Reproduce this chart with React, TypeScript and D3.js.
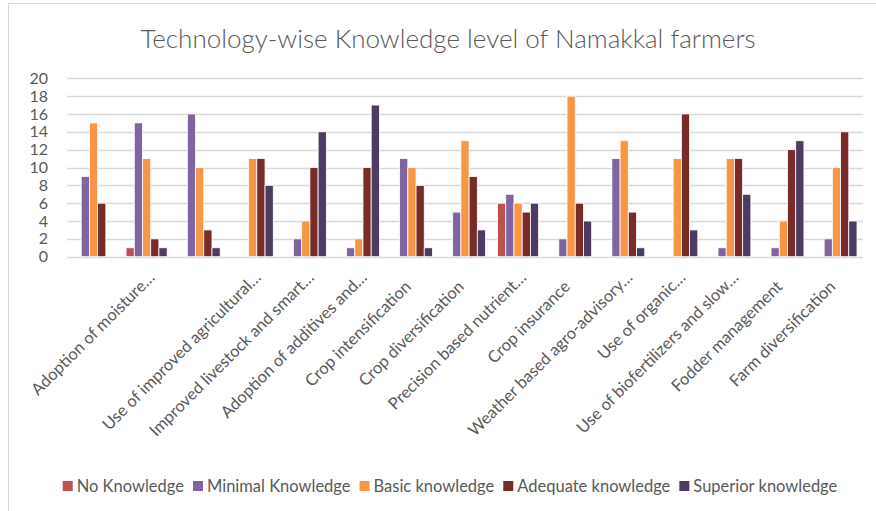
import React, { useEffect, useRef } from 'react';
import * as d3 from 'd3';

// categories as they show on the axis (two groups carry no label in the source chart)
const categories = [
  '',
  'Adoption of moisture…',
  '',
  'Use of improved agricultural…',
  'Improved livestock and smart…',
  'Adoption of additives and…',
  'Crop intensification',
  'Crop diversification',
  'Precision based nutrient…',
  'Crop insurance',
  'Weather based agro-advisory…',
  'Use of organic…',
  'Use of biofertilizers and slow…',
  'Fodder management',
  'Farm diversification',
];

const seriesNames = ['No Knowledge', 'Minimal Knowledge', 'Basic knowledge', 'Adequate knowledge', 'Superior knowledge'];

const noKnowledge = [0, 1, 0, 0, 0, 0, 0, 0, 6, 0, 0, 0, 0, 0, 0];
const minimalKnowledge = [9, 15, 16, 0, 2, 1, 11, 5, 7, 2, 11, 0, 1, 1, 2];
const basicKnowledge = [15, 11, 10, 11, 4, 2, 10, 13, 6, 18, 13, 11, 11, 4, 10];
const adequateKnowledge = [6, 2, 3, 11, 10, 10, 8, 9, 5, 6, 5, 16, 11, 12, 14];
const superiorKnowledge = [0, 1, 1, 8, 14, 17, 1, 3, 6, 4, 1, 3, 7, 13, 4];

const seriesColors = ['#C0504D', '#8064A2', '#F79646', '#772C2A', '#4E3B62'];

const yTicks = [0, 2, 4, 6, 8, 10, 12, 14, 16, 18, 20];

const title = 'Technology-wise Knowledge level of Namakkal farmers';

const W = 876, H = 511;
const font = 'Lato, "Open Sans", sans-serif';
const textColor = '#595959';
const gridColor = '#D9D9D9';

const App = () => {
  const ref = useRef<SVGSVGElement>(null);

  useEffect(() => {
    const svg = d3.select(ref.current);
    svg.selectAll('*').remove();

    const series = [noKnowledge, minimalKnowledge, basicKnowledge, adequateKnowledge, superiorKnowledge];

    const left = 67, right = 863, top = 78.3, bottom = 256.7;

    const x0 = d3.scaleBand<number>()
      .domain(d3.range(categories.length))
      .range([left, right])
      .paddingInner(0.226)
      .paddingOuter(0.113);

    const x1 = d3.scaleBand<number>()
      .domain(d3.range(seriesNames.length))
      .range([0, x0.bandwidth()]);

    const y = d3.scaleLinear()
      .domain([0, 20])
      .range([bottom, top]);

    // chart frame
    svg.append('rect')
      .attr('x', 8.5).attr('y', 3.5)
      .attr('width', 1000).attr('height', 1000)
      .attr('fill', 'white')
      .attr('stroke', gridColor);

    svg.append('text')
      .attr('x', 448).attr('y', 48)
      .attr('text-anchor', 'middle')
      .attr('font-family', font)
      .attr('font-size', 26)
      .attr('font-weight', 300)
      .attr('fill', textColor)
      .text(title);

    // grid
    svg.append('g')
      .selectAll('line')
      .data(yTicks)
      .join('line')
      .attr('x1', left).attr('x2', right)
      .attr('y1', d => Math.round(y(d)) + 0.5)
      .attr('y2', d => Math.round(y(d)) + 0.5)
      .attr('stroke', gridColor)
      .attr('stroke-width', 1.3);

    svg.append('g')
      .selectAll('text')
      .data(yTicks)
      .join('text')
      .attr('x', 48)
      .attr('y', d => y(d))
      .attr('dy', '0.35em')
      .attr('text-anchor', 'end')
      .attr('font-family', font)
      .attr('font-size', 16)
      .attr('fill', textColor)
      .text(d => d);

    // bars
    const groups = svg.append('g')
      .selectAll('g')
      .data(categories.map((c, i) => i))
      .join('g')
      .attr('transform', i => `translate(${x0(i)},0)`);

    groups.selectAll('rect')
      .data(i => series.map((s, k) => ({ k, v: s[i] })).filter(d => d.v > 0))
      .join('rect')
      .attr('x', d => x1(d.k)!)
      .attr('width', x1.bandwidth())
      .attr('y', d => y(d.v))
      .attr('height', d => y(0) - y(d.v))
      .attr('fill', d => seriesColors[d.k])
      .attr('stroke', 'white')
      .attr('stroke-width', 0.8);

    // category labels
    svg.append('g')
      .selectAll('text')
      .data(categories.map((c, i) => ({ c, i })).filter(d => d.c))
      .join('text')
      .attr('transform', d => `translate(${x0(d.i)! + x0.bandwidth() / 2},${bottom + 31}) rotate(-45)`)
      .attr('dx', d => (d.c.endsWith('…') ? 13 : 0))
      .attr('text-anchor', 'end')
      .attr('font-family', font)
      .attr('font-size', 16.5)
      .attr('fill', textColor)
      .text(d => d.c);

    // legend, laid out from measured text widths
    const legend = svg.append('g');
    let cx = 0;
    seriesNames.forEach((name, k) => {
      const item = legend.append('g').attr('transform', `translate(${cx},0)`);
      item.append('rect')
        .attr('x', 0).attr('y', -5)
        .attr('width', 10).attr('height', 10)
        .attr('fill', seriesColors[k]);
      const t = item.append('text')
        .attr('x', 14).attr('y', 0)
        .attr('dy', '0.35em')
        .attr('font-family', font)
        .attr('font-size', 16.5)
        .attr('fill', textColor)
        .text(name);
      const w = (t.node() as SVGTextElement).getComputedTextLength();
      cx += 14 + w + 9;
    });
    const total = cx - 9;
    legend.attr('transform', `translate(${450 - total / 2},486)`);
  }, []);

  return (
    <svg ref={ref} width={W} height={H} style={{ position: 'absolute', left: 0, top: 0, background: 'white' }} />
  );
};

export default App;
